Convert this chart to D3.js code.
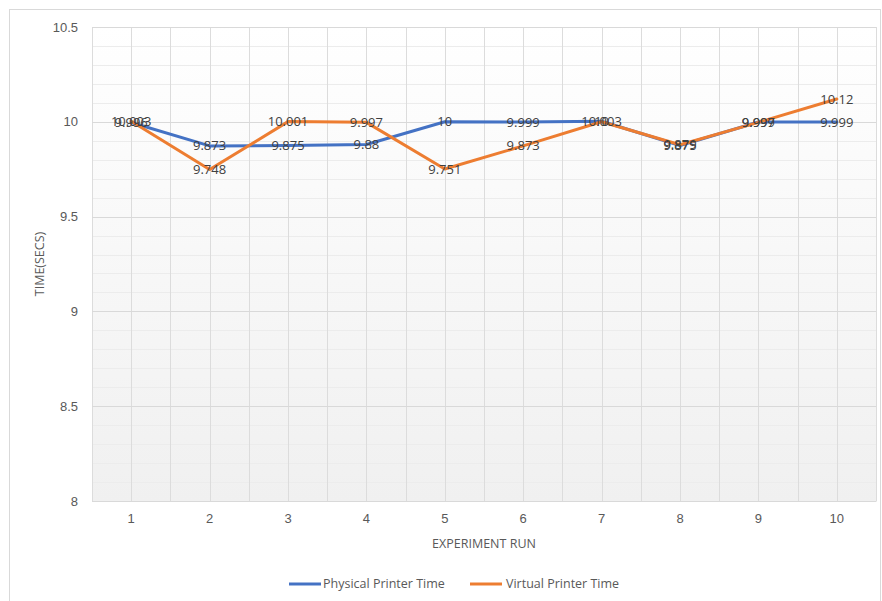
<!DOCTYPE html>
<html>
<head>
<meta charset="utf-8">
<script src="https://cdn.jsdelivr.net/npm/d3@7/dist/d3.min.js"></script>
<style>
  html, body { margin: 0; padding: 0; background: #fff; }
  svg { display: block; font-family: "Open Sans", "Liberation Sans", sans-serif; }
</style>
</head>
<body>
<svg id="chart" width="882" height="601"></svg>
<script>
// Experiment runs and timings (seconds)
const runs = ["1", "2", "3", "4", "5", "6", "7", "8", "9", "10"];
const physicalTime = [9.996, 9.873, 9.875, 9.88, 10, 9.999, 10.003, 9.875, 9.999, 9.999];
const virtualTime = [10.003, 9.748, 10.001, 9.997, 9.751, 9.873, 10, 9.879, 9.997, 10.12];
const yTicks = [8, 8.5, 9, 9.5, 10, 10.5];
const seriesNames = ["Physical Printer Time", "Virtual Printer Time"];
const seriesColors = ["#4472C4", "#ED7D31"];

const svg = d3.select("#chart");
const plot = { left: 92, right: 876, top: 27, bottom: 501 };

// Chart frame
svg.append("rect")
  .attr("x", 9.5).attr("y", 9.5)
  .attr("width", 871).attr("height", 600)
  .attr("fill", "#fff").attr("stroke", "#d9d9d9");

// Plot background gradient
const defs = svg.append("defs");
const grad = defs.append("linearGradient").attr("id", "bg")
  .attr("x1", 0).attr("y1", 0).attr("x2", 0).attr("y2", 1);
grad.append("stop").attr("offset", "0%").attr("stop-color", "#ffffff");
grad.append("stop").attr("offset", "100%").attr("stop-color", "#f0f0f0");
svg.append("rect")
  .attr("x", plot.left).attr("y", plot.top)
  .attr("width", plot.right - plot.left).attr("height", plot.bottom - plot.top)
  .attr("fill", "url(#bg)");

const x = d3.scaleBand().domain(runs).range([plot.left, plot.right]).padding(0);
const y = d3.scaleLinear().domain([8, 10.5]).range([plot.bottom, plot.top]);
const cx = d => x(d) + x.bandwidth() / 2;

// Minor horizontal gridlines every 0.1
const minor = d3.range(8.1, 10.5, 0.1).filter(v => Math.abs(v * 2 - Math.round(v * 2)) > 1e-6);
svg.append("g").selectAll("line").data(minor).join("line")
  .attr("x1", plot.left).attr("x2", plot.right)
  .attr("y1", d => Math.round(y(d)) + 0.5).attr("y2", d => Math.round(y(d)) + 0.5)
  .attr("stroke", "#ececec").attr("stroke-width", 1);

// Vertical gridlines at category centres and boundaries
const vlines = [];
runs.forEach(r => { vlines.push(x(r)); vlines.push(cx(r)); });
vlines.push(plot.right);
svg.append("g").selectAll("line").data(vlines).join("line")
  .attr("x1", d => Math.round(d) + 0.5).attr("x2", d => Math.round(d) + 0.5)
  .attr("y1", plot.top).attr("y2", plot.bottom)
  .attr("stroke", "#dcdcdc").attr("stroke-width", 1);

// Major horizontal gridlines
svg.append("g").selectAll("line").data(yTicks).join("line")
  .attr("x1", plot.left).attr("x2", plot.right)
  .attr("y1", d => Math.round(y(d)) + 0.5).attr("y2", d => Math.round(y(d)) + 0.5)
  .attr("stroke", "#d9d9d9").attr("stroke-width", 1);

// Y axis labels
const yAxis = d3.axisLeft(y).tickValues(yTicks).tickSize(0).tickPadding(14)
  .tickFormat(d => d3.format("")(d));
const gy = svg.append("g").attr("transform", `translate(${plot.left},0)`).call(yAxis);
gy.select(".domain").remove();
gy.selectAll("text").attr("fill", "#595959").attr("font-size", 13);

// X axis labels
const xAxis = d3.axisBottom(x).tickSize(0).tickPadding(13);
const gx = svg.append("g").attr("transform", `translate(0,${plot.bottom})`).call(xAxis);
gx.select(".domain").attr("stroke", "#d9d9d9");
gx.selectAll("text").attr("fill", "#595959").attr("font-size", 13);

// Axis titles
svg.append("text")
  .attr("x", 484).attr("y", 548)
  .attr("text-anchor", "middle").attr("fill", "#595959").attr("font-size", 12.5)
  .text("EXPERIMENT RUN");
svg.append("text")
  .attr("transform", "translate(44,264) rotate(-90)")
  .attr("text-anchor", "middle").attr("fill", "#595959").attr("font-size", 12.5)
  .text("TIME(SECS)");

// Lines
const series = [physicalTime, virtualTime];
const line = d3.line().x((d, i) => cx(runs[i])).y(d => y(d));
series.forEach((vals, s) => {
  svg.append("path").datum(vals)
    .attr("d", line)
    .attr("fill", "none")
    .attr("stroke", seriesColors[s])
    .attr("stroke-width", 3)
    .attr("stroke-linejoin", "round")
    .attr("stroke-linecap", "round");
});

// Data labels centred on points
series.forEach(vals => {
  svg.append("g").selectAll("text").data(vals).join("text")
    .attr("x", (d, i) => cx(runs[i]))
    .attr("y", d => y(d))
    .attr("dy", "0.35em")
    .attr("text-anchor", "middle")
    .attr("fill", "#404040")
    .attr("font-size", 13)
    .text(d => d3.format("")(d));
});

// Legend
const legend = [
  { x: 289, tx: 323 },
  { x: 470, tx: 506 }
];
legend.forEach((p, i) => {
  svg.append("line")
    .attr("x1", p.x).attr("x2", p.x + 32)
    .attr("y1", 584).attr("y2", 584)
    .attr("stroke", seriesColors[i]).attr("stroke-width", 3);
  svg.append("text")
    .attr("x", p.tx).attr("y", 584).attr("dy", "0.35em")
    .attr("fill", "#595959").attr("font-size", 12.5)
    .text(seriesNames[i]);
});
</script>
</body>
</html>
